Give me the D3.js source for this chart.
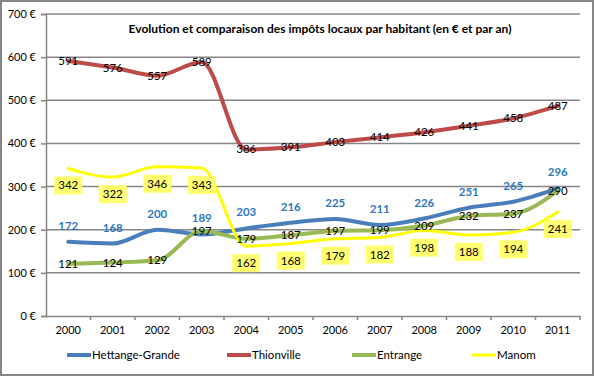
<!DOCTYPE html>
<html>
<head>
<meta charset="utf-8">
<script src="https://cdn.jsdelivr.net/npm/d3@7"></script>
<style>
  body { margin: 0; background: #fff; }
  svg { font-family: Lato, "Open Sans", sans-serif; }
</style>
</head>
<body>
<script>
//chart data
var years = ["2000","2001","2002","2003","2004","2005","2006","2007","2008","2009","2010","2011"];
var hettange = [172,168,200,189,203,216,225,211,226,251,265,296];
var thionville = [591,576,557,589,386,391,403,414,426,441,458,487];
var entrange = [121,124,129,197,179,187,197,199,209,232,237,290];
var manom = [342,322,346,343,162,168,179,182,198,188,194,241];
var yTicks = [0,100,200,300,400,500,600,700];
var title = "Evolution et comparaison des impôts locaux par habitant (en € et par an)";

window.onload = drawChart();

function drawChart(){
    var width = 594,
        height = 376;

    var svg = d3.select("body")
        .append("svg")
        .attr("width", width)
        .attr("height", height);

    //outer frame
    svg.append("rect")
        .attr("x", 1).attr("y", 1)
        .attr("width", width - 2).attr("height", height - 2)
        .attr("fill", "#fff")
        .attr("stroke", "#868686")
        .attr("stroke-width", 2);

    var left = 46, right = 580, top = 14, bottom = 316;

    var x = d3.scaleBand()
        .domain(years)
        .range([left, right]);

    var y = d3.scaleLinear()
        .domain([0, 700])
        .range([bottom, top]);

    //gridlines
    svg.append("g")
        .selectAll("line")
        .data(yTicks.slice(1))
        .enter().append("line")
        .attr("x1", left).attr("x2", right)
        .attr("y1", function(d){ return y(d); })
        .attr("y2", function(d){ return y(d); })
        .attr("stroke", "#868686")
        .attr("stroke-width", 1.5);

    //y axis
    var yAxis = svg.append("g")
        .attr("transform", "translate(" + left + ",0)")
        .call(d3.axisLeft(y).tickValues(yTicks).tickSize(5).tickPadding(5)
            .tickFormat(function(d){ return d + " €"; }));
    yAxis.select(".domain").attr("stroke", "#868686").attr("stroke-width", 1.5);
    yAxis.selectAll(".tick line").attr("stroke", "#868686").attr("stroke-width", 1.5);
    yAxis.selectAll("text").attr("font-size", 11).attr("fill", "#000")
        .attr("font-family", "Lato, sans-serif");

    //x axis
    var xAxis = svg.append("g")
        .attr("transform", "translate(0," + bottom + ")")
        .call(d3.axisBottom(x).tickSize(0).tickPadding(10));
    xAxis.select(".domain").attr("stroke", "#868686").attr("stroke-width", 1.5);
    xAxis.selectAll("text").attr("font-size", 11).attr("fill", "#000")
        .attr("font-family", "Lato, sans-serif");
    //tick marks between categories
    xAxis.selectAll(".sep")
        .data(years)
        .enter().append("line")
        .attr("class", "sep")
        .attr("x1", function(d){ return x(d) + x.bandwidth(); })
        .attr("x2", function(d){ return x(d) + x.bandwidth(); })
        .attr("y1", 0).attr("y2", 4)
        .attr("stroke", "#868686").attr("stroke-width", 1.5);

    //title
    svg.append("text")
        .attr("x", 320).attr("y", 33)
        .attr("text-anchor", "middle")
        .attr("font-size", 12)
        .attr("font-weight", "bold")
        .text(title);

    var line = d3.line()
        .x(function(d, i){ return x(years[i]) + x.bandwidth() / 2; })
        .y(function(d){ return y(d); })
        .curve(d3.curveMonotoneX);

    var series = [
        {name: "Hettange-Grande", values: hettange, color: "#4A7EBB", width: 4, labelColor: "#2F78BE", dy: -16, bold: true},
        {name: "Thionville", values: thionville, color: "#BE4B48", width: 4, labelColor: "#000", dy: 0, bold: false},
        {name: "Entrange", values: entrange, color: "#98B954", width: 4, labelColor: "#000", dy: 0, bold: false},
        {name: "Manom", values: manom, color: "#FFFF00", width: 3, labelColor: "#000", dy: 17, bold: false, box: true}
    ];

    //lines
    svg.append("g")
        .selectAll("path")
        .data(series)
        .enter().append("path")
        .attr("d", function(s){ return line(s.values); })
        .attr("fill", "none")
        .attr("stroke", function(s){ return s.color; })
        .attr("stroke-width", function(s){ return s.width; })
        .attr("stroke-linejoin", "round")
        .attr("stroke-linecap", "round");

    //data labels
    series.forEach(function(s){
        var g = svg.append("g");
        s.values.forEach(function(v, i){
            var cx = x(years[i]) + x.bandwidth() / 2;
            var cy = y(v) + s.dy;
            if (s.box) {
                g.append("rect")
                    .attr("x", cx - 14).attr("y", cy - 9)
                    .attr("width", 28).attr("height", 18)
                    .attr("fill", "#FFFF70");
            }
            g.append("text")
                .attr("x", cx).attr("y", cy)
                .attr("dy", "0.35em")
                .attr("text-anchor", "middle")
                .attr("font-size", 11.5)
                .attr("font-weight", s.bold ? "bold" : "normal")
                .attr("fill", s.labelColor)
                .text(v);
        });
    });

    //legend
    var legendX = [67, 227, 352, 472];
    var legend = svg.append("g")
        .selectAll("g")
        .data(series)
        .enter().append("g")
        .attr("transform", function(s, i){ return "translate(" + legendX[i] + ",355)"; });
    legend.append("line")
        .attr("x1", 0).attr("x2", 24)
        .attr("stroke", function(s){ return s.color; })
        .attr("stroke-width", function(s){ return s.width; });
    legend.append("text")
        .attr("x", 25).attr("dy", "0.35em")
        .attr("font-size", 11.5)
        .text(function(s){ return s.name; });
}
</script>
</body>
</html>
